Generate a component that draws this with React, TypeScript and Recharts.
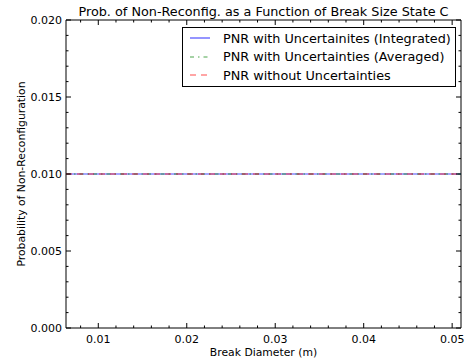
import React from 'react';
import { LineChart, Line, XAxis, YAxis, ReferenceArea, Legend } from 'recharts';

// ---------- data ----------
const breakDiameters = [0.00635, 0.0127, 0.01905, 0.0254, 0.03175, 0.0381, 0.04445, 0.051];
const pnrIntegrated = [0.01, 0.01, 0.01, 0.01, 0.01, 0.01, 0.01, 0.01];
const pnrAveraged = [0.01, 0.01, 0.01, 0.01, 0.01, 0.01, 0.01, 0.01];
const pnrWithout = [0.01, 0.01, 0.01, 0.01, 0.01, 0.01, 0.01, 0.01];

const seriesNames = [
  'PNR with Uncertainites (Integrated)',
  'PNR with Uncertainties (Averaged)',
  'PNR without Uncertainties',
];

const xDomain = [0.00635, 0.051];
const yDomain = [0, 0.02];
const xMajorTicks = [0.01, 0.02, 0.03, 0.04, 0.05];
const xMinorTicks = [
  0.008, 0.012, 0.014, 0.016, 0.018, 0.022, 0.024, 0.026, 0.028, 0.032, 0.034,
  0.036, 0.038, 0.042, 0.044, 0.046, 0.048,
];
const yMajorTicks = [0, 0.005, 0.01, 0.015, 0.02];
const yMinorTicks = [
  0.001, 0.002, 0.003, 0.004, 0.006, 0.007, 0.008, 0.009, 0.011, 0.012, 0.013,
  0.014, 0.016, 0.017, 0.018, 0.019,
];

const titleText = 'Prob. of Non-Reconfig. as a Function of Break Size State C';
const xLabelText = 'Break Diameter (m)';
const yLabelText = 'Probability of Non-Reconfiguration';

// ---------- layout / style ----------
const W = 464;
const H = 362;
const MARGIN = { top: 20, right: 3, bottom: 0, left: 0 };
const Y_AXIS_W = 66;
const X_AXIS_H = 34;
const PLOT_TOP = MARGIN.top;
const PLOT_RIGHT = W - MARGIN.right;
const FONT = '"DejaVu Sans", sans-serif';
const TICK_FS = 11;
const LABEL_FS = 10.8;
const LEGEND_FS = 12.8;
const TITLE_FS = 12.8;

const seriesStyles = [
  { key: 'integrated', color: '#0000ff', dash: undefined as string | undefined },
  { key: 'averaged', color: '#008000', dash: '4 4 1.5 4' },
  { key: 'without', color: '#ff0000', dash: '6 5' },
];

const data = breakDiameters.map((d, i) => ({
  d,
  integrated: pnrIntegrated[i],
  averaged: pnrAveraged[i],
  without: pnrWithout[i],
}));

const isMajor = (v: number, majors: number[]) => majors.some((m) => Math.abs(m - v) < 1e-9);

const XTick = (props: any) => {
  const { x, y, payload } = props;
  const v = payload.value as number;
  const major = isMajor(v, xMajorTicks);
  const len = major ? 5 : 2.5;
  return (
    <g>
      <line x1={x} y1={y} x2={x} y2={y - len} stroke="#000" strokeWidth={1} />
      <line x1={x} y1={PLOT_TOP} x2={x} y2={PLOT_TOP + len} stroke="#000" strokeWidth={1} />
      {major && (
        <text x={x} y={y + 14.5} textAnchor="middle" fontSize={TICK_FS} fontFamily={FONT} fill="#000">
          {v.toFixed(2)}
        </text>
      )}
    </g>
  );
};

const YTick = (props: any) => {
  const { x, y, payload } = props;
  const v = payload.value as number;
  const major = isMajor(v, yMajorTicks);
  const len = major ? 5 : 2.5;
  return (
    <g>
      <line x1={x} y1={y} x2={x + len} y2={y} stroke="#000" strokeWidth={1} />
      <line x1={PLOT_RIGHT} y1={y} x2={PLOT_RIGHT - len} y2={y} stroke="#000" strokeWidth={1} />
      {major && (
        <text x={x - 4} y={y + 4} textAnchor="end" fontSize={TICK_FS} fontFamily={FONT} fill="#000">
          {v.toFixed(3)}
        </text>
      )}
    </g>
  );
};

const XLabel = (props: any) => {
  const vb = props.viewBox || {};
  const cx = vb.x + vb.width / 2;
  return (
    <text x={cx} y={vb.y + 28} textAnchor="middle" fontSize={LABEL_FS} fontFamily={FONT} fill="#000">
      {xLabelText}
    </text>
  );
};

const YLabel = (props: any) => {
  const vb = props.viewBox || {};
  const cx = vb.x + 21;
  const cy = vb.y + vb.height / 2;
  return (
    <text
      x={cx}
      y={cy}
      transform={`rotate(-90 ${cx} ${cy})`}
      textAnchor="middle"
      dominantBaseline="central"
      fontSize={LABEL_FS}
      fontFamily={FONT}
      fill="#000"
    >
      {yLabelText}
    </text>
  );
};

const LegendBox = (props: any) => {
  const payload = (props.payload || []) as any[];
  return (
    <div
      style={{
        boxSizing: 'border-box',
        width: 274,
        height: 60,
        border: '1px solid #000',
        background: '#fff',
        paddingTop: 1,
        fontFamily: FONT,
        fontSize: LEGEND_FS,
        color: '#000',
      }}
    >
      {payload.map((entry: any, i: number) => {
        const st = seriesStyles.find((s) => s.key === entry.dataKey) || seriesStyles[i];
        return (
          <div key={i} style={{ display: 'flex', alignItems: 'center', height: 18.5, whiteSpace: 'nowrap' }}>
            <svg width={40} height={10} style={{ display: 'block', flex: 'none' }}>
              <line
                x1={7}
                y1={5}
                x2={27}
                y2={5}
                stroke={st.color}
                strokeOpacity={0.7}
                strokeWidth={1.2}
                strokeDasharray={st.dash}
              />
            </svg>
            <span>{entry.value}</span>
          </div>
        );
      })}
    </div>
  );
};

export default function App() {
  return (
    <div style={{ position: 'absolute', left: 0, top: 0, width: W, height: H, background: '#fff' }}>
      <LineChart width={W} height={H} data={data} margin={MARGIN}>
        <XAxis
          dataKey="d"
          type="number"
          domain={xDomain}
          allowDataOverflow
          ticks={[...xMinorTicks, ...xMajorTicks].sort((a, b) => a - b)}
          interval={0}
          tickSize={0}
          tickMargin={0}
          tickLine={false}
          axisLine={false}
          tick={<XTick />}
          height={X_AXIS_H}
          label={<XLabel />}
        />
        <YAxis
          type="number"
          domain={yDomain}
          allowDataOverflow
          ticks={[...yMinorTicks, ...yMajorTicks].sort((a, b) => a - b)}
          interval={0}
          tickSize={0}
          tickMargin={0}
          tickLine={false}
          axisLine={false}
          tick={<YTick />}
          width={Y_AXIS_W}
          label={<YLabel />}
        />
        {seriesStyles.map((s, i) => (
          <Line
            key={s.key}
            type="linear"
            dataKey={s.key}
            name={seriesNames[i]}
            stroke={s.color}
            strokeOpacity={0.7}
            strokeWidth={1.2}
            strokeDasharray={s.dash}
            dot={false}
            activeDot={false}
            isAnimationActive={false}
          />
        ))}
        <ReferenceArea
          x1={xDomain[0]}
          x2={xDomain[1]}
          y1={yDomain[0]}
          y2={yDomain[1]}
          fill="none"
          fillOpacity={0}
          stroke="#000"
          strokeWidth={1}
          ifOverflow="visible"
        />
        <Legend
          layout="horizontal"
          verticalAlign="middle"
          align="center"
          content={<LegendBox />}
          wrapperStyle={{ position: 'absolute', left: 182, top: 27, width: 274, height: 60, margin: 0, padding: 0 }}
        />
      </LineChart>
      <svg width={W} height={20} style={{ position: 'absolute', left: 0, top: 0, pointerEvents: 'none' }}>
        <text x={263.5} y={15.5} textAnchor="middle" fontSize={TITLE_FS} fontFamily={FONT} fill="#000">
          {titleText}
        </text>
      </svg>
    </div>
  );
}
